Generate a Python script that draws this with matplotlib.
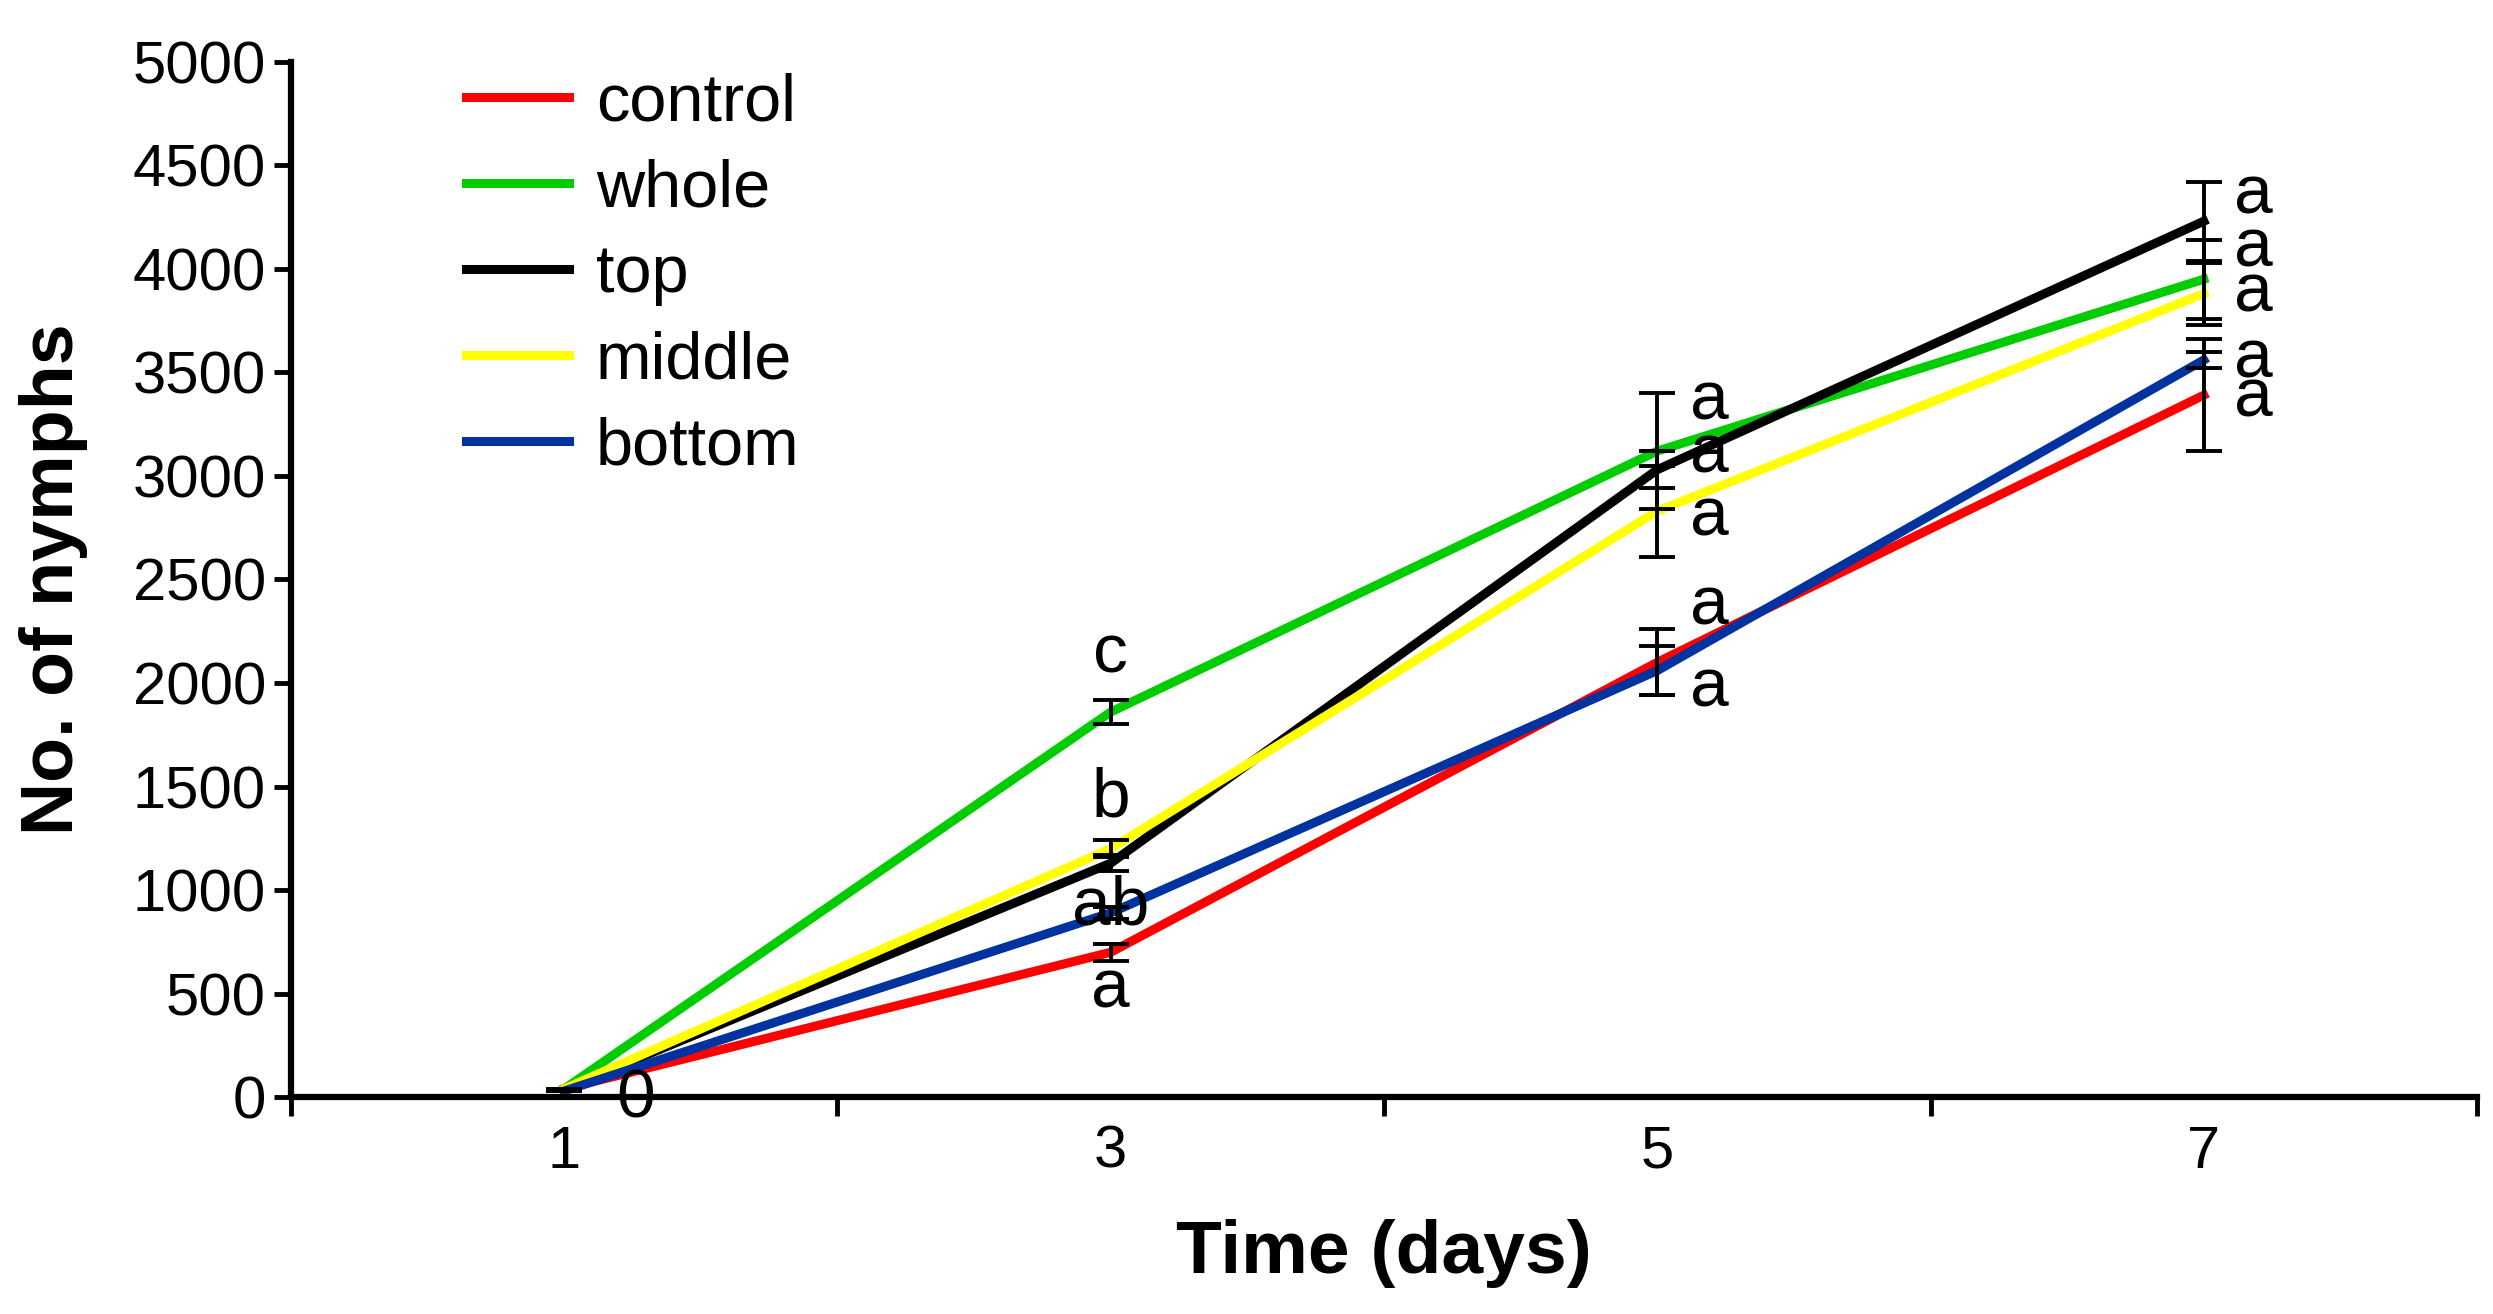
import numpy as np
import matplotlib
matplotlib.use("Agg")
import matplotlib.pyplot as plt
from matplotlib.ticker import FixedLocator

plt.rcParams['font.family'] = ['Liberation Sans', 'DejaVu Sans']

days = ['1', '3', '5', '7']
series = ['control', 'whole', 'top', 'middle', 'bottom']
colors = ['#ff0000', '#00cc00', '#000000', '#ffff00', '#0033a0']

control = [40, 700, 2100, 3390]
whole = [40, 1860, 3120, 3950]
top = [40, 1130, 3030, 4230]
middle = [40, 1200, 2830, 3880]
bottom = [30, 890, 2060, 3560]
values = [control, whole, top, middle, bottom]

err_control = [0, 40, 160, 270]
err_whole = [0, 60, 280, 190]
err_top = [0, 40, 90, 190]
err_middle = [0, 40, 220, 150]
err_bottom = [0, 30, 120, 40]
errors = [err_control, err_whole, err_top, err_middle, err_bottom]

# letters next to the points: (day index, x offset, y value, text)
letters = [
    (0, 0.13, -10, '0'),
    (1, 0.0, 2140, 'c'), (1, 0.0, 1440, 'b'), (1, 0.0, 920, 'ab'), (1, 0.0, 520, 'a'),
    (2, 0.095, 3360, 'a'), (2, 0.095, 3105, 'a'), (2, 0.095, 2800, 'a'),
    (2, 0.095, 2370, 'a'), (2, 0.095, 1975, 'a'),
    (3, 0.09, 4355, 'a'), (3, 0.09, 4100, 'a'), (3, 0.09, 3880, 'a'),
    (3, 0.09, 3560, 'a'), (3, 0.09, 3375, 'a'),
]

fig = plt.figure(figsize=(24.93, 13.14), dpi=100)
ax = fig.add_axes([0.1167, 0.165, 0.8769, 0.788])

x = np.arange(len(days))
for name, col, v in zip(series, colors, values):
    ax.plot(x, v, color=col, lw=6.5, label=name, zorder=2)
for v, e in zip(values, errors):
    ax.errorbar(x, v, yerr=e, fmt='none', ecolor='black', elinewidth=2.8,
                capsize=13, capthick=2.8, zorder=3)

for i, dx, y, t in letters:
    ax.text(i + dx, y, t, fontsize=50, ha='center', va='center', zorder=4)

ax.set_xlim(-0.5, 3.5)
ax.set_ylim(0, 5000)
ax.set_yticks(np.arange(0, 5001, 500))
ax.set_xticks(x)
ax.set_xticklabels(days)
ax.xaxis.set_minor_locator(FixedLocator(np.arange(-0.5, 3.6, 1)))
ax.tick_params(axis='x', which='major', length=0, pad=20, labelsize=43)
ax.tick_params(axis='x', which='minor', length=14, width=3.5, direction='out')
ax.tick_params(axis='y', length=12, width=3.5, direction='out', pad=6, labelsize=43)

for s in ['top', 'right']:
    ax.spines[s].set_visible(False)
for s in ['left', 'bottom']:
    ax.spines[s].set_linewidth(4.5)

ax.set_xlabel('Time (days)', fontsize=54, fontweight='bold', labelpad=28)
ax.set_ylabel('No. of nymphs', fontsize=53, fontweight='bold', labelpad=32)

ax.legend(loc='upper left', bbox_to_anchor=(0.08, 0.99), frameon=False,
          fontsize=48, handlelength=1.55, handletextpad=0.4, labelspacing=0.36,
          borderpad=0, borderaxespad=0)

fig.savefig('out.png', dpi=100)
